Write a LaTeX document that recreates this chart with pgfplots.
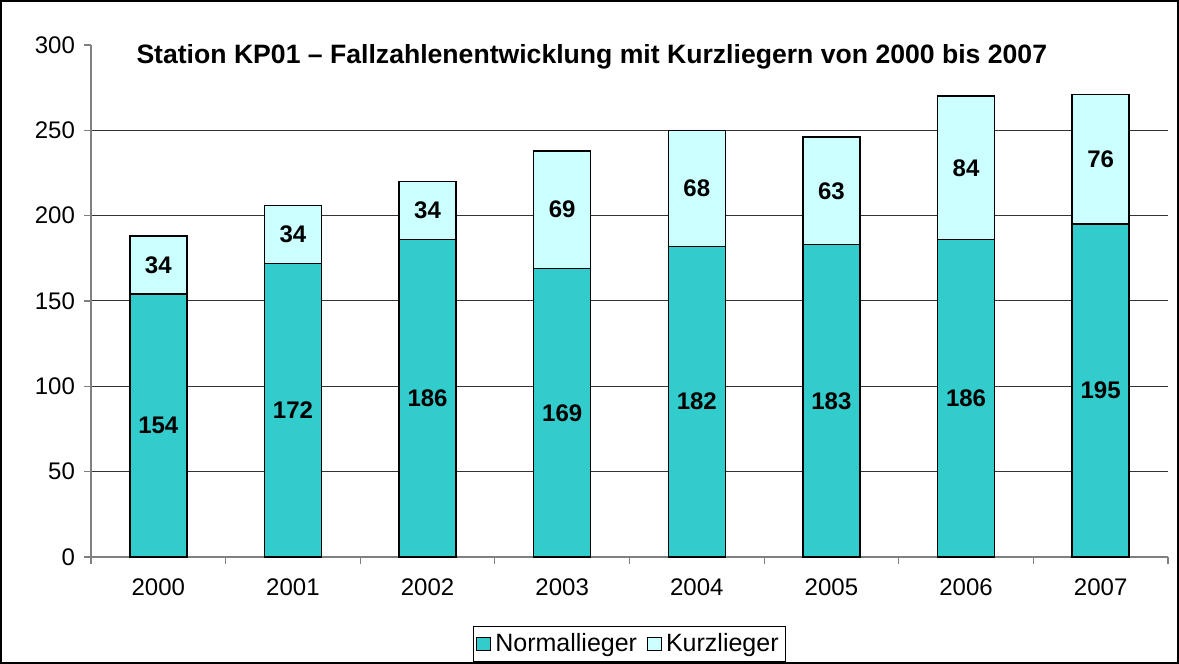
\documentclass[border=0pt]{standalone}
\usepackage{fontspec}
\setmainfont{Liberation Sans}
\usepackage{pgfplots}
\pgfplotsset{compat=1.18}
\definecolor{normal}{HTML}{33CCCC}
\definecolor{kurz}{HTML}{CCFFFF}

\begin{document}
\begin{tikzpicture}
\begin{axis}[
  at={(0,0)}, anchor=south west,
  scale only axis, width=538.5pt, height=256pt,
  ybar stacked, bar width=28.5pt,
  xmin=-0.5, xmax=7.5, ymin=0, ymax=300,
  xtick={0,...,7},
  xticklabels={2000,2001,2002,2003,2004,2005,2006,2007},
  major x tick style={draw=none},
  minor xtick={-0.5,0.5,...,7.5},
  ytick={0,50,...,250}, extra y ticks={300}, extra y tick style={grid=none},
  ymajorgrids, grid style={black!80, line width=0.5pt},
  axis x line=bottom, axis y line=left,
  axis line style={-, black!50, line width=0.6pt},
  tick align=outside, tick style={black!50, line width=0.6pt},
  major tick length=3.5pt, minor tick length=3.5pt,
  /pgf/number format/assume math mode=true,
  tick label style={font=\fontsize{12}{14}\selectfont},
  yticklabel style={xshift=-1pt},
  xticklabel style={yshift=-4pt},
  visualization depends on=rawy \as \rawy,
  nodes near coords={\pgfmathprintnumber{\rawy}},
  every node near coord/.append style={anchor=center, font=\fontsize{12}{14}\selectfont\bfseries},
  legend columns=2,
  legend style={at={(0.5,0)}, anchor=south, yshift=-52.5pt, draw=black, line width=0.5pt,
    font=\fontsize{12.5}{14}\selectfont, inner sep=1.5pt,
    /tikz/every even column/.append style={column sep=3pt}},
  legend image code/.code={\draw[#1, line width=0.5pt, draw=black] (0pt,-3.3pt) rectangle (7pt,3.3pt);},
]
\addplot[fill=normal, draw=black, line width=0.75pt] coordinates {(0,154)(1,172)(2,186)(3,169)(4,182)(5,183)(6,186)(7,195)};
\addplot[fill=kurz, draw=black, line width=0.75pt] coordinates {(0,34)(1,34)(2,34)(3,69)(4,68)(5,63)(6,84)(7,76)};
\legend{Normallieger, Kurzlieger}
\node[font=\fontsize{13.3}{15}\selectfont\bfseries] at (axis cs:3.22,293) {Station KP01 – Fallzahlenentwicklung mit Kurzliegern von 2000 bis 2007};
\end{axis}
\draw[line width=1pt] (-45pt,-53pt) rectangle (543.5pt,278pt);
\end{tikzpicture}
\end{document}
